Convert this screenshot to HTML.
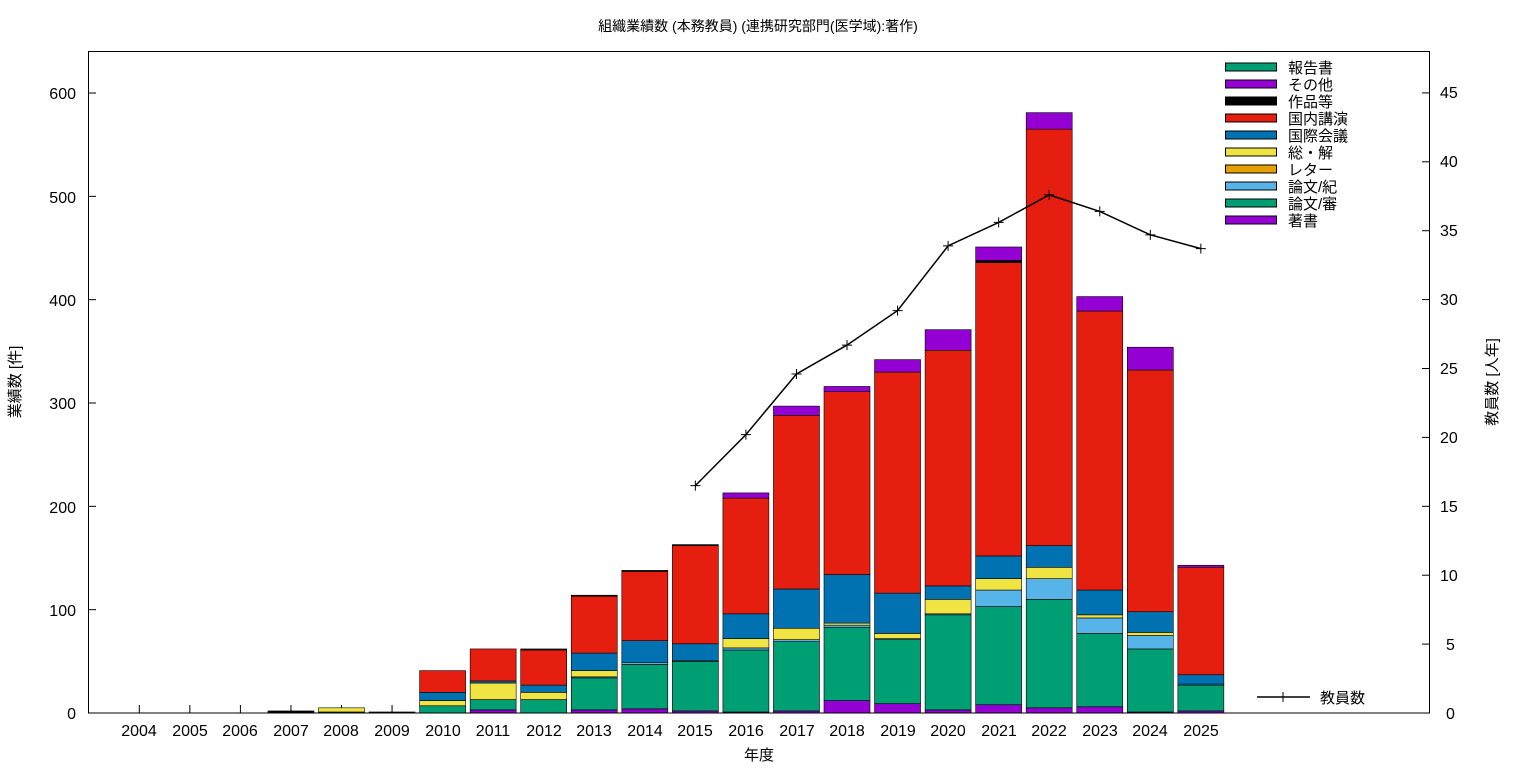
<!DOCTYPE html>
<html><head><meta charset="utf-8"><style>
html,body{margin:0;padding:0;background:#fff;}
svg{display:block;font-family:"Liberation Sans","Noto Sans CJK JP",sans-serif;}
</style></head><body>
<svg id="s" width="1536" height="768" xmlns="http://www.w3.org/2000/svg">
<rect width="1536" height="768" fill="#fff"/>
<g id="ticks" stroke="#000" stroke-width="1"></g>
<g id="bars"></g>
<rect x="88.5" y="51.5" width="1341" height="661.5" fill="none" stroke="#000" stroke-width="1"/>
<text x="758" y="31" font-size="14" text-anchor="middle">組織業績数 (本務教員) (連携研究部門(医学域):著作)</text>
<g font-size="16" text-anchor="end">
<text x="76" y="719">0</text><text x="76" y="616">100</text><text x="76" y="513">200</text>
<text x="76" y="409">300</text><text x="76" y="306">400</text><text x="76" y="203">500</text><text x="76" y="99">600</text>
</g>
<g font-size="16" text-anchor="start">
<text x="1446" y="719">0</text><text x="1446" y="650">5</text><text x="1440" y="581">10</text>
<text x="1440" y="512">15</text><text x="1440" y="443">20</text><text x="1440" y="374">25</text>
<text x="1440" y="305">30</text><text x="1440" y="236">35</text><text x="1440" y="167">40</text><text x="1440" y="98">45</text>
</g>
<g font-size="16" text-anchor="middle">
<text x="139" y="736">2004</text><text x="190" y="736">2005</text><text x="240" y="736">2006</text><text x="291" y="736">2007</text>
<text x="341" y="736">2008</text><text x="392" y="736">2009</text><text x="443" y="736">2010</text><text x="493" y="736">2011</text>
<text x="544" y="736">2012</text><text x="594" y="736">2013</text><text x="645" y="736">2014</text><text x="695" y="736">2015</text>
<text x="746" y="736">2016</text><text x="797" y="736">2017</text><text x="847" y="736">2018</text><text x="898" y="736">2019</text>
<text x="948" y="736">2020</text><text x="999" y="736">2021</text><text x="1049" y="736">2022</text><text x="1100" y="736">2023</text>
<text x="1150" y="736">2024</text><text x="1201" y="736">2025</text>
</g>
<text x="759" y="760" font-size="15" text-anchor="middle">年度</text>
<text transform="translate(20,382) rotate(-90)" font-size="15" text-anchor="middle">業績数 [件]</text>
<text transform="translate(1497,382) rotate(-90)" font-size="15" text-anchor="middle">教員数 [人年]</text>
<g id="leg" stroke="#000" stroke-width="1"></g>
<g font-size="15">
<text x="1288" y="73">報告書</text><text x="1288" y="90">その他</text><text x="1288" y="107">作品等</text>
<text x="1288" y="124">国内講演</text><text x="1288" y="141">国際会議</text><text x="1288" y="158">総・解</text>
<text x="1288" y="175">レター</text><text x="1288" y="192">論文/紀</text><text x="1288" y="209">論文/審</text>
<text x="1288" y="226">著書</text>
<text x="1320" y="703">教員数</text>
</g>
<line x1="1257" y1="697" x2="1310" y2="697" stroke="#000" stroke-width="1.5"/>
<path d="M1283 692v10M1278 697h10" stroke="#000"/>
<g id="line"></g>
</svg>
<script>
var NS="http://www.w3.org/2000/svg";
function el(p,t,a){var e=document.createElementNS(NS,t);for(var k in a)e.setAttribute(k,a[k]);p.appendChild(e);return e;}
var C=["#9400d3","#009e73","#56b4e9","#e69f00","#f0e442","#0072b2","#e51e10","#000000","#9400d3","#009e73"];
var D={2007:[0,0,0,0,0,0,0,2,2,2],2008:[0,1,1,1,5,5,5,5,5,5],2009:[0,0,0,0,0,0,0,1,1,1],
2010:[0,7,7,7,12,20,41,41,41,41],2011:[3,13,13,13,29,31,62,62,62,62],
2012:[0,13,13,13,20,27,61,62,62,62],2013:[3,34,35,35,41,58,113,114,114,114],
2014:[4,47,49,49,49,70,137,138,138,138],2015:[2,50,51,51,51,67,162,163,163,163],
2016:[1,61,63,63,72,96,208,208,213,213],2017:[2,69,71,71,82,120,288,288,297,297],
2018:[12,83,85,85,87,134,311,311,316,316],2019:[9,71,72,72,77,116,330,330,342,342],
2020:[3,95,96,96,110,123,351,351,371,371],2021:[8,103,119,119,130,152,436,438,451,451],
2022:[5,110,130,130,141,162,565,565,581,581],2023:[6,77,92,92,95,119,389,389,403,403],
2024:[1,62,75,75,78,98,332,332,354,354],2025:[2,27,28,28,28,37,141,141,143,143]};
function X(y){return 139.3+(y-2004)*50.55;}
function Y(v){return 713-v*1.0333;}
var g=document.getElementById("bars");
for(var yr in D){var a=D[yr],prev=0;for(var i=0;i<10;i++){var h=a[i]-prev;if(h>0){el(g,"rect",{x:X(+yr)-23,y:Y(a[i]),width:46,height:h*1.0333,fill:C[i],stroke:"#000","stroke-width":0.6});}prev=a[i];}}
var t=document.getElementById("ticks");
for(var v=0;v<=600;v+=100){el(t,"line",{x1:88,x2:96,y1:Y(v),y2:Y(v)});}
for(var r=0;r<=45;r+=5){var yy=713-r*13.78;el(t,"line",{x1:1422,x2:1430,y1:yy,y2:yy});}
for(var y=2004;y<=2025;y++){el(t,"line",{x1:X(y),x2:X(y),y1:705,y2:713});}
var L=document.getElementById("leg");
var lc=["#009e73","#9400d3","#000000","#e51e10","#0072b2","#f0e442","#e69f00","#56b4e9","#009e73","#9400d3"];
for(var i=0;i<10;i++)el(L,"rect",{x:1225.5,y:63+i*17,width:51,height:8,fill:lc[i]});
var P=[[2015,16.5],[2016,20.2],[2017,24.6],[2018,26.7],[2019,29.2],[2020,33.9],[2021,35.6],[2022,37.6],[2023,36.4],[2024,34.7],[2025,33.7]];
var lg=document.getElementById("line"),d="";
P.forEach(function(p,i){var x=X(p[0]),y=713-p[1]*13.78;d+=(i?"L":"M")+x+" "+y;el(lg,"path",{d:"M"+(x-5)+" "+y+"h10M"+x+" "+(y-5)+"v10",stroke:"#000"});});
el(lg,"path",{d:d,fill:"none",stroke:"#000","stroke-width":1.5});
</script>
</body></html>
